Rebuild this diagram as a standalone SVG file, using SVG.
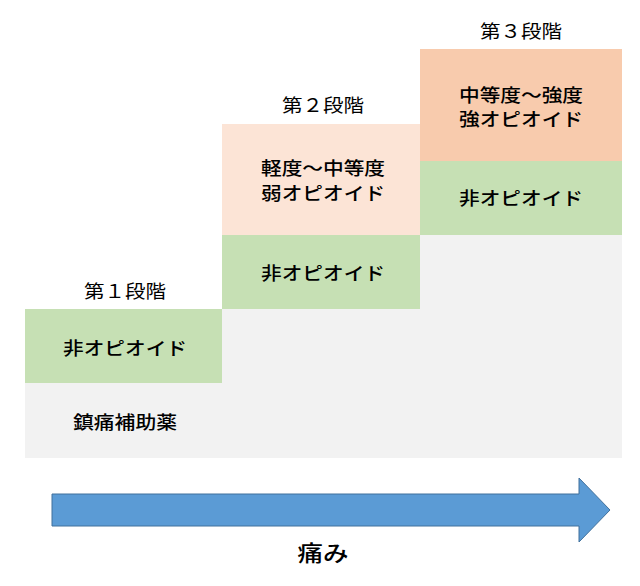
<svg xmlns="http://www.w3.org/2000/svg" width="640" height="586" viewBox="0 0 640 586">
<style>
text{font-family:"Noto Sans CJK JP","Noto Sans CJK SC",sans-serif;fill:#000;text-anchor:middle}
.st{font-size:18px;font-weight:400}
.bx{font-size:18px;font-weight:500}
.ax{font-size:22px;font-weight:500}
</style>
<rect width="640" height="586" fill="#fff"/>
<g id="background">
<path d="M25 383H222V309H420V235H622V458H25Z" fill="#F2F2F2"/>
</g>
<g id="step1">
<rect x="25" y="309" width="197" height="74" fill="#C6E0B4"/>
<text class="st" x="125" y="298" textLength="82" lengthAdjust="spacingAndGlyphs">第１段階</text>
<text class="bx" x="125" y="355" textLength="124" lengthAdjust="spacingAndGlyphs">非オピオイド</text>
</g>
<g id="adjuvant">
<text class="bx" x="125" y="429" textLength="104" lengthAdjust="spacingAndGlyphs">鎮痛補助薬</text>
</g>
<g id="step2">
<rect x="222" y="124" width="198" height="111" fill="#FCE4D6"/>
<rect x="222" y="235" width="198" height="74" fill="#C6E0B4"/>
<text class="st" x="323" y="112" textLength="82" lengthAdjust="spacingAndGlyphs">第２段階</text>
<text class="bx" x="323" y="175" textLength="124" lengthAdjust="spacingAndGlyphs">軽度～中等度</text>
<text class="bx" x="323" y="200" textLength="124" lengthAdjust="spacingAndGlyphs">弱オピオイド</text>
<text class="bx" x="323" y="280" textLength="124" lengthAdjust="spacingAndGlyphs">非オピオイド</text>
</g>
<g id="step3">
<rect x="420" y="49" width="202" height="112" fill="#F8CBAD"/>
<rect x="420" y="161" width="202" height="74" fill="#C6E0B4"/>
<text class="st" x="521" y="38" textLength="82" lengthAdjust="spacingAndGlyphs">第３段階</text>
<text class="bx" x="521" y="102" textLength="124" lengthAdjust="spacingAndGlyphs">中等度～強度</text>
<text class="bx" x="521" y="126" textLength="124" lengthAdjust="spacingAndGlyphs">強オピオイド</text>
<text class="bx" x="521" y="205" textLength="124" lengthAdjust="spacingAndGlyphs">非オピオイド</text>
</g>
<g id="connectors">
<path d="M52 494H579V478L610 510L579 542V526H52Z" fill="#5B9BD5" stroke="#41719C" stroke-width="1"/>
</g>
<g id="pain">
<text class="ax" x="323" y="561" textLength="51" lengthAdjust="spacingAndGlyphs">痛み</text>
</g>
</svg>
